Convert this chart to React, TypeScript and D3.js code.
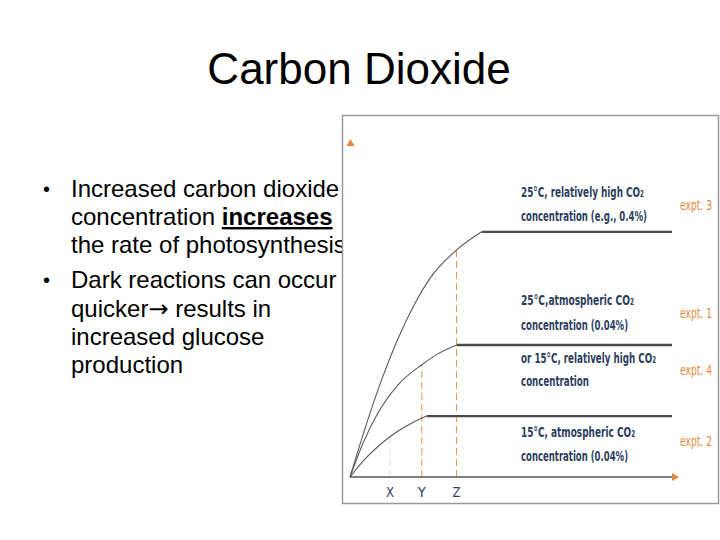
import React, { useLayoutEffect, useRef } from "react";
import * as d3 from "d3";

const titleText = "Carbon Dioxide";

const bulletLines: { bullet: boolean; parts: { t: string; b?: boolean; arrow?: boolean }[] }[] = [
  { bullet: true, parts: [{ t: "Increased carbon dioxide" }] },
  { bullet: false, parts: [{ t: "concentration " }, { t: "increases", b: true }] },
  { bullet: false, parts: [{ t: "the rate of photosynthesis" }] },
  { bullet: true, parts: [{ t: "Dark reactions can occur" }] },
  { bullet: false, parts: [{ t: "quicker" }, { t: "\u2192", arrow: true }, { t: " results in" }] },
  { bullet: false, parts: [{ t: "increased glucose" }] },
  { bullet: false, parts: [{ t: "production" }] },
];
const bulletBaselines = [197, 225, 253, 288, 317, 345, 373];

// CO2 concentration (x) vs rate of photosynthesis (y), 0-100 relative units
const expt3: [number, number][] = [[0, 0], [5, 15.5], [10, 29.5], [15, 41.5], [20, 51.5], [25, 59.5], [33.1, 67.8], [40.9, 73.2], [100, 73.2]];
const expt1: [number, number][] = [[0, 0], [4, 10], [8.8, 19.3], [15, 27.6], [22.3, 33.5], [27, 36.6], [33.1, 39.4], [100, 39.4]];
const expt2: [number, number][] = [[0, 0], [4.7, 5.4], [8, 8.5], [12.4, 12], [17, 14.9], [22.3, 17.6], [23.8, 18.2], [100, 18.2]];
const seriesList = [expt3, expt1, expt2];

const markerLabels = ["X", "Y", "Z"];
const markerX = [12.4, 22.3, 33.1];
const markerTop = [12, 33.5, 67.8];
const markerOpacity = [0.35, 0.9, 0.9];

const exptLabels = ["expt. 3", "expt. 1", "expt. 4", "expt. 2"];
const exptBaselines = [210, 318, 375, 446];

const descLines = [
  "25\u00B0C, relatively high CO\u2082",
  "concentration (e.g., 0.4%)",
  "25\u00B0C,atmospheric CO\u2082",
  "concentration (0.04%)",
  "or 15\u00B0C, relatively high CO\u2082",
  "concentration",
  "15\u00B0C, atmospheric CO\u2082",
  "concentration (0.04%)",
];
const descBaselines = [197, 221, 305, 330, 363, 386, 437, 461];
const descWidths = [123, 126, 113, 107, 135, 68, 114, 107];

type Narrow = { t: string; x: number; y: number; w: number; fill: string; weight: number };

function NarrowText({ t, x, y, w, fill, weight }: Narrow) {
  const ref = useRef<SVGTextElement>(null);
  useLayoutEffect(() => {
    const el = ref.current;
    if (!el) return;
    const nat = el.getComputedTextLength();
    const s = nat > 0 ? w / nat : 1;
    el.setAttribute("transform", `translate(${x},${y}) scale(${s},1)`);
  }, [t, x, y, w]);
  return (
    <text
      ref={ref}
      x={0}
      y={0}
      transform={`translate(${x},${y}) scale(0.6,1)`}
      fontFamily="'DejaVu Sans', sans-serif"
      fontSize={14}
      fontWeight={weight}
      fill={fill}
    >
      {t}
    </text>
  );
}

export default function App() {
  const x = d3.scaleLinear().domain([0, 100]).range([350, 672]);
  const y = d3.scaleLinear().domain([0, 100]).range([477, 142]);
  const curveGen = d3
    .line<[number, number]>()
    .x((d) => x(d[0]))
    .y((d) => y(d[1]))
    .curve(d3.curveMonotoneX);
  const lineGen = d3
    .line<[number, number]>()
    .x((d) => x(d[0]))
    .y((d) => y(d[1]));

  const navy = "#2d3e5e";
  const orange = "#e5883a";
  const font = "'Liberation Sans', Arial, sans-serif";
  const figFont = "'DejaVu Sans', sans-serif";

  return (
    <svg
      width={720}
      height={540}
      style={{ position: "absolute", left: 0, top: 0, background: "#fff" }}
    >
      <rect x={0} y={0} width={720} height={540} fill="#fff" />
      <text x={359} y={84} textAnchor="middle" fontFamily={font} fontSize={44} fill="#000">
        {titleText}
      </text>
      {bulletLines.map((ln, i) => (
        <g key={i}>
          {ln.bullet && (
            <text x={43} y={bulletBaselines[i] - 1} fontFamily={font} fontSize={20} fill="#000">
              {"\u2022"}
            </text>
          )}
          <text x={71} y={bulletBaselines[i]} fontFamily={font} fontSize={24} fill="#000">
            {ln.parts.map((p, j) => (
              <tspan
                key={j}
                fontWeight={p.b ? "bold" : "normal"}
                fontFamily={p.arrow ? figFont : undefined}
                style={p.b ? { textDecoration: "underline" } : undefined}
              >
                {p.t}
              </tspan>
            ))}
          </text>
        </g>
      ))}

      {/* embedded figure frame */}
      <rect x={342.5} y={115.5} width={376} height={388} fill="#fff" stroke="#9a9a9a" strokeWidth={1.5} />

      {/* dashed markers */}
      {markerX.map((mx, i) => (
        <g key={i}>
          <line
            x1={x(mx)}
            x2={x(mx)}
            y1={y(0)}
            y2={y(markerTop[i])}
            stroke={orange}
            strokeWidth={1}
            strokeDasharray="7,4"
            opacity={markerOpacity[i]}
          />
          <NarrowText t={markerLabels[i]} x={x(mx) - 4} y={497} w={8} fill={navy} weight={400} />
        </g>
      ))}

      {/* curves */}
      {seriesList.map((s, i) => (
        <g key={i}>
          <path d={curveGen(s.slice(0, -1)) || ""} fill="none" stroke="#5a5a5a" strokeWidth={1.1} />
          <path d={lineGen(s.slice(-2)) || ""} fill="none" stroke="#4a4a4a" strokeWidth={2.3} />
        </g>
      ))}

      {/* axes */}
      <line x1={x(0)} x2={x(100) + 1} y1={y(0)} y2={y(0)} stroke="#555" strokeWidth={1.4} />
      <path
        d={`M${x(100)},${y(0) - 4} L${x(100) + 7},${y(0)} L${x(100)},${y(0) + 4} Z`}
        fill={orange}
      />
      <path d={`M${x(0) - 3.5},${y(100) + 4} L${x(0) + 0.5},${y(100) - 3} L${x(0) + 4.5},${y(100) + 4} Z`} fill={orange} />

      {/* descriptions */}
      {descLines.map((t, i) => (
        <NarrowText key={i} t={t} x={521} y={descBaselines[i]} w={descWidths[i]} fill={navy} weight={600} />
      ))}
      {exptLabels.map((t, i) => (
        <NarrowText key={i} t={t} x={680} y={exptBaselines[i]} w={32} fill={orange} weight={400} />
      ))}
    </svg>
  );
}
